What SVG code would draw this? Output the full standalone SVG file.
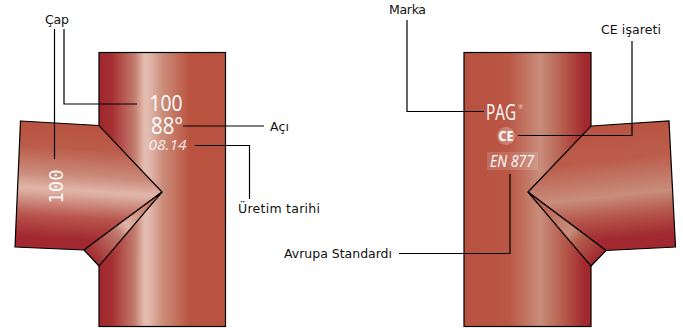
<svg xmlns="http://www.w3.org/2000/svg" width="683" height="328" viewBox="0 0 683 328">
<style>
.s{stroke:#000;stroke-width:1.2;stroke-linejoin:miter}
.l{font:12.500px "DejaVu Sans",sans-serif;fill:#111}
.w{font-family:"Open Sans",sans-serif;fill:#fff}
.c{fill:none;stroke:#000;stroke-width:1.2}
</style>
<defs>
<linearGradient id="pl" gradientUnits="userSpaceOnUse" x1="99" y1="0" x2="225" y2="0">
<stop offset="0" stop-color="#a0282e"/><stop offset=".1" stop-color="#a62f31"/><stop offset=".28" stop-color="#c27a6c"/><stop offset=".36" stop-color="#e3bcb0"/><stop offset=".39" stop-color="#e3bcb0"/><stop offset=".5" stop-color="#cc8f7d"/><stop offset=".72" stop-color="#b9533f"/><stop offset="1" stop-color="#b85240"/>
</linearGradient>
<linearGradient id="pr" gradientUnits="userSpaceOnUse" x1="464" y1="0" x2="591" y2="0">
<stop offset="0" stop-color="#b85240"/><stop offset=".35" stop-color="#ba5644"/><stop offset=".45" stop-color="#c06c5a"/><stop offset=".6" stop-color="#c88d7b"/><stop offset=".78" stop-color="#b65c4c"/><stop offset=".95" stop-color="#a2292f"/><stop offset="1" stop-color="#a0282e"/>
</linearGradient>
<linearGradient id="bl" gradientUnits="userSpaceOnUse" x1="92" y1="124" x2="84" y2="250">
<stop offset="0" stop-color="#b85240"/><stop offset=".2" stop-color="#bb5b49"/><stop offset=".42" stop-color="#cb8c7c"/><stop offset=".53" stop-color="#e0b5a8"/><stop offset=".56" stop-color="#dcaea0"/><stop offset=".75" stop-color="#b8544c"/><stop offset=".92" stop-color="#a2292f"/><stop offset="1" stop-color="#a0282e"/>
</linearGradient>
<linearGradient id="br" gradientUnits="userSpaceOnUse" x1="596" y1="124" x2="610" y2="250">
<stop offset="0" stop-color="#b85240"/><stop offset=".3" stop-color="#bc5d4c"/><stop offset=".58" stop-color="#c88d7b"/><stop offset=".75" stop-color="#b4544a"/><stop offset=".92" stop-color="#a2292f"/><stop offset="1" stop-color="#a0282e"/>
</linearGradient>
<linearGradient id="wl" gradientUnits="userSpaceOnUse" x1="162" y1="192" x2="90" y2="258">
<stop offset="0" stop-color="#b85240"/><stop offset=".5" stop-color="#e0b5a8"/><stop offset=".62" stop-color="#c07a6c"/><stop offset="1" stop-color="#a0282e"/>
</linearGradient>
<linearGradient id="wr" gradientUnits="userSpaceOnUse" x1="528" y1="192" x2="598" y2="258">
<stop offset="0" stop-color="#b85240"/><stop offset=".6" stop-color="#c88d7b"/><stop offset=".72" stop-color="#b4604f"/><stop offset="1" stop-color="#a0282e"/>
</linearGradient>
</defs>
<g id="tee-left">
<rect class="s" x="99" y="52.500" width="126.500" height="274" fill="url(#pl)"/>
<path class="s" d="M20.500 121 99 125.500 162 192 84 250 15 247Z" fill="url(#bl)"/>
<path class="s" d="M162 192 84 250 99 266Z" fill="url(#wl)"/>
<text class="w" x="166" y="111" font-size="22" text-anchor="middle" textLength="33" lengthAdjust="spacingAndGlyphs">100</text>
<text class="w" x="167" y="134" font-size="23" text-anchor="middle" textLength="32" lengthAdjust="spacingAndGlyphs">88°</text>
<text class="w" x="167.500" y="150" font-size="14" font-style="italic" text-anchor="middle" textLength="38" lengthAdjust="spacingAndGlyphs" opacity=".85">08.14</text>
<text class="w" style="font-family:'DejaVu Sans Mono',monospace" font-size="19" text-anchor="middle" transform="translate(63 186.500) rotate(-90)" opacity=".9">100</text>
</g>
<g id="tee-right">
<rect class="s" x="464" y="52.500" width="127" height="274" fill="url(#pr)"/>
<path class="s" d="M591 126 669 121 675.500 247 606 250.500 528 192Z" fill="url(#br)"/>
<path class="s" d="M528 192 606 250.500 591 266Z" fill="url(#wr)"/>
<text class="w" x="486" y="120" font-size="22" textLength="30" lengthAdjust="spacingAndGlyphs">PAG</text>
<text class="w" x="518" y="109" font-size="6" opacity=".7">®</text>
<circle cx="506" cy="136" r="9" fill="#fff" fill-opacity=".25"/>
<text class="w" x="506" y="141" font-size="14" font-weight="bold" text-anchor="middle" textLength="15" lengthAdjust="spacingAndGlyphs">CE</text>
<rect x="487" y="152" width="51" height="18" fill="#fff" fill-opacity=".14"/>
<text class="w" x="512" y="167" font-size="17" font-style="italic" text-anchor="middle" textLength="44" lengthAdjust="spacingAndGlyphs">EN 877</text>
</g>
<g id="connectors">
<path class="c" d="M54.500 29V159"/>
<path class="c" d="M64 29V104H137"/>
<path class="c" d="M183 126H264"/>
<path class="c" d="M195 145.500H249.500V199"/>
<path class="c" d="M407 20V111.500H484"/>
<path class="c" d="M632 41V135.500H518"/>
<path class="c" d="M510 174V253.500H399"/>
</g>
<g id="labels">
<text class="l" x="45" y="24" textLength="24">Çap</text>
<text class="l" x="270" y="131" textLength="19">Açı</text>
<text class="l" x="238" y="213" textLength="82">Üretim tarihi</text>
<text class="l" x="389" y="14" textLength="37">Marka</text>
<text class="l" x="601" y="34" textLength="60">CE işareti</text>
<text class="l" x="284" y="258" textLength="108">Avrupa Standardı</text>
</g>
</svg>
